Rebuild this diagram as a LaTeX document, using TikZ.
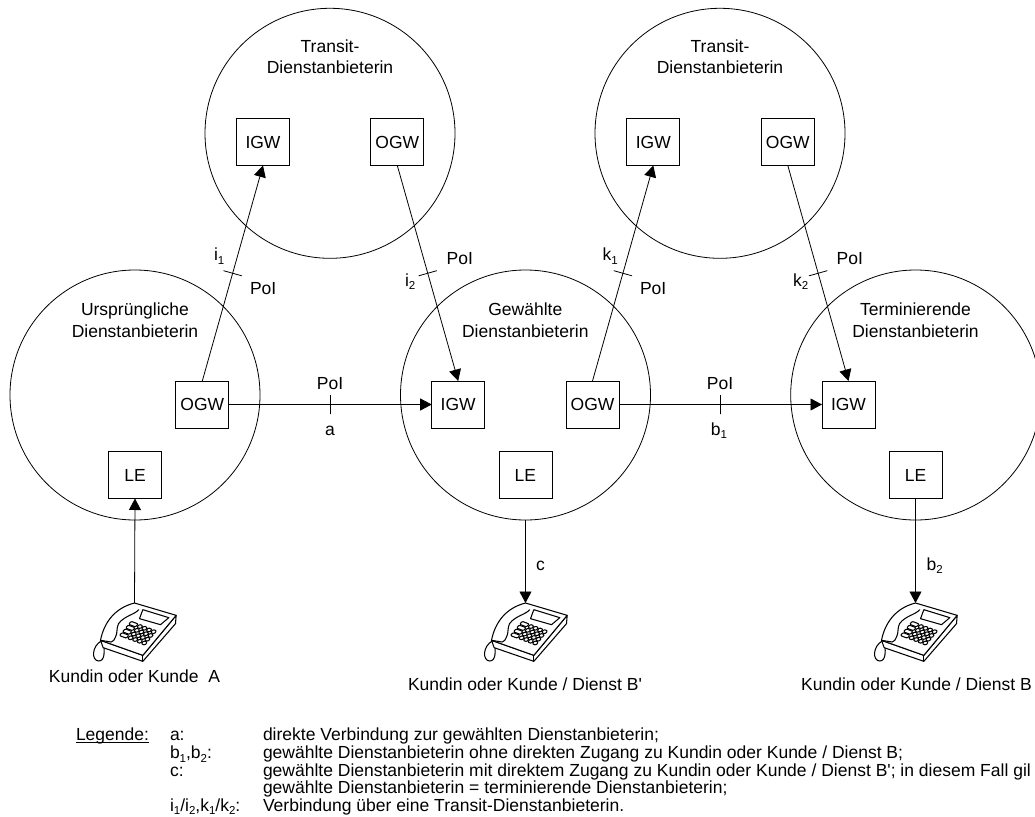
\documentclass[tikz,border=0pt]{standalone}
\usepackage{fontspec}
\setmainfont{Liberation Sans}
\newfontfamily\plainfont{Liberation Sans}
\usetikzlibrary{arrows.meta}
\newcommand{\subs}[1]{\smash{\raisebox{-0.22em}{\fontsize{11.5}{11.5}\selectfont #1}}}
\newcommand{\apos}{{\plainfont\char"27}}
\tikzset{
  x=1pt,y=-1pt,
  base line/.style={line width=0.8pt,draw=black},
  cloud disc/.style={base line,circle,minimum size=250pt,inner sep=0pt,outer sep=0pt},
  unit box/.style={base line,rectangle,minimum width=53pt,minimum height=47pt,inner sep=0pt,outer sep=0pt,font=\fontsize{17.5}{17.5}\selectfont},
  lbl/.style={inner sep=0pt,outer sep=0pt,anchor=base,font=\fontsize{17.5}{17.5}\selectfont},
  lbl west/.style={lbl,anchor=base west},
  arr/.style={base line,-{Triangle[length=11.5pt,width=12pt]}},
  tick mark/.style={draw=black,line width=0.8pt,rectangle,sloped,minimum height=19pt,minimum width=0pt,inner sep=0pt,outer sep=0pt},
  pics/telephone/.style={code={
    \begin{scope}[x=0.3333pt,y=-0.3333pt,line width=1.05pt,line join=round,line cap=round]
      % cord
      \draw (-100,114) .. controls (-128,130) and (-130,172) .. (-108,174) .. controls (-88,175) and (-90,140) .. (-92,132);
      % body lower face
      \draw[fill=white] (-102,112) -- (-94,134) -- (25,175) -- (123,62) -- (125,37) -- (25,157) -- cycle;
      % body
      \draw[fill=white] (0,0) -- (125,37) -- (25,157) -- (-102,112) .. controls (-92,60) and (-60,15) .. (0,0) -- cycle;
      \draw (25,157) -- (25,175);
      % handset inner line
      \draw (13,20) .. controls (0,35) and (-30,38) .. (-48,62) .. controls (-55,75) and (-50,90) .. (-57,102) .. controls (-60,110) and (-64,116) .. (-70,117) -- (-102,112);
      % display
      \draw (25,20) -- (103,44) -- (78,65) -- (15,47) -- cycle;
      % keypad
      \foreach \ta/\tb in {0/.29,.34/.49,.53/.68,.72/.87,.91/1.06}{\foreach \j in {0,1,2,3}{
        \pgfmathsetmacro{\sa}{\j*0.25}
        \pgfmathsetmacro{\sb}{\j*0.25+0.2}
        \draw[rounded corners=1pt,fill=white]
          ({-10+\ta*72-\sa*37},{55+\ta*27+\sa*45}) --
          ({-10+\tb*72-\sa*37},{55+\tb*27+\sa*45}) --
          ({-10+\tb*72-\sb*37},{55+\tb*27+\sb*45}) --
          ({-10+\ta*72-\sb*37},{55+\ta*27+\sb*45}) -- cycle;
      }}
    \end{scope}
  }},
}
\begin{document}
\begin{tikzpicture}
\useasboundingbox (0,0) rectangle (1035,816);
\clip (0,0) rectangle (1035,816);
% provider circles
\node[cloud disc] (cT1) at (330,133.3) {};
\node[cloud disc] (cT2) at (720,133.3) {};
\node[cloud disc] (cU) at (135,395) {};
\node[cloud disc] (cG) at (525.5,395) {};
\node[cloud disc] (cE) at (915.7,395) {};
% gateway boxes
\node[unit box] (t1i) at (263,142) {IGW};
\node[unit box] (t1o) at (397.3,142) {OGW};
\node[unit box] (t2i) at (653.3,142) {IGW};
\node[unit box] (t2o) at (787.8,142) {OGW};
\node[unit box] (uo) at (202.3,404.5) {OGW};
\node[unit box] (ul) at (135,475) {LE};
\node[unit box] (gi) at (458.2,404.5) {IGW};
\node[unit box] (go) at (592.5,404.5) {OGW};
\node[unit box] (gl) at (525.4,475) {LE};
\node[unit box] (ei) at (848.5,404.5) {IGW};
\node[unit box] (el) at (915.5,475) {LE};
% provider names
\node[lbl] (n1a) at (330,52.7) {Transit-};
\node[lbl] (n1b) at (330,74) {Dienstanbieterin};
\node[lbl] (n2a) at (720,52.7) {Transit-};
\node[lbl] (n2b) at (720,74) {Dienstanbieterin};
\node[lbl] (n3a) at (135,315) {Ursprüngliche};
\node[lbl] (n3b) at (135,337.3) {Dienstanbieterin};
\node[lbl] (n4a) at (525.3,315) {Gewählte};
\node[lbl] (n4b) at (525.3,337.3) {Dienstanbieterin};
\node[lbl] (n5a) at (915.5,315) {Terminierende};
\node[lbl] (n5b) at (915.5,337.3) {Dienstanbieterin};
% phones
\coordinate (pA) at (134.5,603);
\coordinate (pB) at (525.5,603);
\coordinate (pC) at (915.5,603);
\pic at (pA) {telephone};
\pic at (pB) {telephone};
\pic at (pC) {telephone};
% connectors
\draw[arr] (uo.north) -- node[tick mark,pos=.5] (tk1) {} (t1i.south);
\draw[arr] (t1o.south) -- node[tick mark,pos=.5] (tk2) {} (gi.north);
\draw[arr] (go.north) -- node[tick mark,pos=.5] (tk3) {} (t2i.south);
\draw[arr] (t2o.south) -- node[tick mark,pos=.5] (tk4) {} (ei.north);
\draw[arr] (uo.east) -- node[tick mark,pos=.5] (tk5) {} (gi.west);
\draw[arr] (go.east) -- node[tick mark,pos=.5] (tk6) {} (ei.west);
\draw[arr] (pA) -- (ul.south);
\draw[arr] (cG.south) -- (pB);
\draw[arr] (el.south) -- (pC);
% connector labels
\node[lbl west] (l1) at (214,260.7) {i\subs{1}};
\node[lbl west] (l2) at (250,294.7) {PoI};
\node[lbl west] (l3) at (405,286) {i\subs{2}};
\node[lbl west] (l4) at (446.7,264.3) {PoI};
\node[lbl west] (l5) at (602.7,260.7) {k\subs{1}};
\node[lbl west] (l6) at (640,294.7) {PoI};
\node[lbl west] (l7) at (793,286) {k\subs{2}};
\node[lbl west] (l8) at (836.7,264.3) {PoI};
\node[lbl] (l9) at (330,389.3) {PoI};
\node[lbl] (l10) at (330,435) {a};
\node[lbl] (l11) at (720,389.3) {PoI};
\node[lbl] (l12) at (719,435) {b\subs{1}};
\node[lbl west] (l13) at (536,570) {c};
\node[lbl west] (l14) at (926.7,570) {b\subs{2}};
% captions
\node[lbl] (c1) at (134.5,682.7) {Kundin oder Kunde\ \ A};
\node[lbl] (c2) at (525,690) {Kundin oder Kunde / Dienst B\apos};
\node[lbl] (c3) at (916.5,690) {Kundin oder Kunde / Dienst B};
% legend
\node[lbl west] (k0) at (76,740.7) {Legende:};
\draw[line width=0.8pt] ([yshift=-1.6pt]k0.base west) -- ([yshift=-1.6pt]k0.base east);
\node[lbl west] (k1) at (170,740.7) {a:};
\node[lbl west] (k2) at (170,758.3) {b\subs{1},b\subs{2}:};
\node[lbl west] (k3) at (170,776) {c:};
\node[lbl west] (k4) at (170,811) {i\subs{1}/i\subs{2},k\subs{1}/k\subs{2}:};
\node[lbl west] (d1) at (263,740.7) {direkte Verbindung zur gewählten Dienstanbieterin;};
\node[lbl west] (d2) at (263,758.3) {gewählte Dienstanbieterin ohne direkten Zugang zu Kundin oder Kunde / Dienst B;};
\node[lbl west] (d3) at (263,776) {gewählte Dienstanbieterin mit direktem Zugang zu Kundin oder Kunde / Dienst B\apos; in diesem Fall gil};
\node[lbl west] (d4) at (263,793.3) {gewählte Dienstanbieterin = terminierende Dienstanbieterin;};
\node[lbl west] (d5) at (263,811) {Verbindung über eine Transit-Dienstanbieterin.};
\end{tikzpicture}
\end{document}
